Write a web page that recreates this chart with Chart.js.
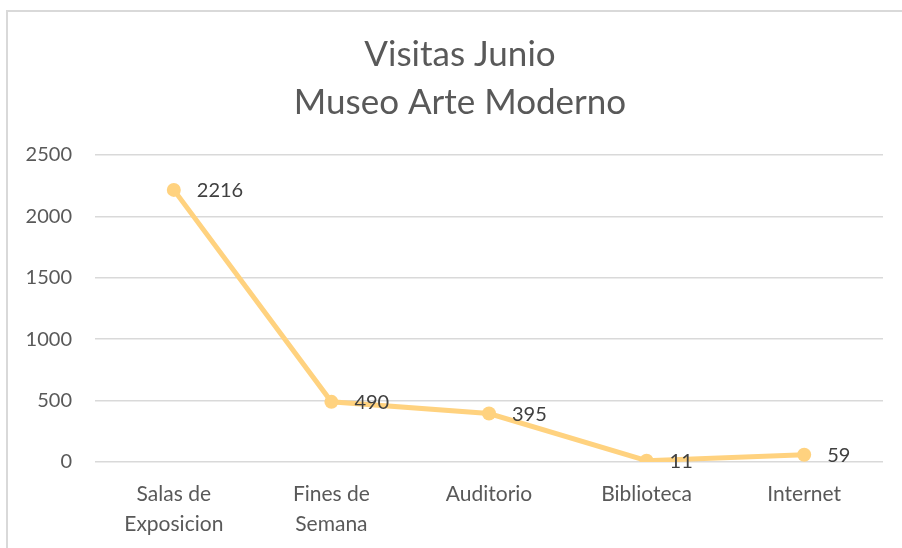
<!DOCTYPE html>
<html><head><meta charset="utf-8">
<script src="https://cdn.jsdelivr.net/npm/chart.js@4"></script>
<style>
html,body{margin:0;padding:0;background:#fff;}
#wrap{position:relative;width:902px;height:548px;overflow:hidden;}
#frame{position:absolute;left:6px;top:10px;width:1000px;height:1000px;border-left:2px solid #d9d9d9;border-top:2px solid #d9d9d9;}
canvas{position:absolute;left:0;top:0;}
</style></head>
<body><div id="wrap"><div id="frame"></div><canvas id="c" width="902" height="548"></canvas></div>
<script>
const titleLines = ["Visitas Junio", "Museo Arte Moderno"];
const categories = [["Salas de","Exposicion"], ["Fines de","Semana"], "Auditorio", "Biblioteca", "Internet"];
const visitas = [2216, 490, 395, 11, 59];
const yMin = 0, yMax = 2500, yStep = 500;

const FONT = "Lato, 'Open Sans', sans-serif";

const labelPlugin = {
  id: 'pointLabels',
  afterDatasetsDraw(chart) {
    const ctx = chart.ctx;
    const meta = chart.getDatasetMeta(0);
    ctx.save();
    ctx.font = "20px " + FONT;
    ctx.fillStyle = "#404040";
    ctx.textAlign = "left";
    ctx.textBaseline = "middle";
    meta.data.forEach((pt, i) => {
      ctx.fillText(String(chart.data.datasets[0].data[i]), pt.x + 23, pt.y + 1);
    });
    ctx.restore();
  }
};

// Title drawn centred on the outer chart frame (not the canvas)
const titlePlugin = {
  id: 'frameTitle',
  afterDraw(chart) {
    const ctx = chart.ctx;
    ctx.save();
    ctx.font = "35px " + FONT;
    ctx.fillStyle = "#595959";
    ctx.textAlign = "center";
    ctx.textBaseline = "alphabetic";
    titleLines.forEach((t, i) => ctx.fillText(t, 460, 66 + i * 48));
    ctx.restore();
  }
};

new Chart(document.getElementById('c'), {
  type: 'line',
  data: {
    labels: categories,
    datasets: [{
      data: visitas,
      borderColor: '#FFD27F',
      backgroundColor: '#FFD27F',
      borderWidth: 5,
      pointRadius: 7,
      pointHoverRadius: 7,
      pointBorderWidth: 0,
      tension: 0
    }]
  },
  options: {
    responsive: false,
    animation: false,
    layout: { padding: { left: 0, right: 19, top: 155, bottom: 0 } },
    plugins: {
      legend: { display: false },
      tooltip: { enabled: false },
      title: { display: false }
    },
    scales: {
      x: {
        offset: true,
        grid: { display: false, drawTicks: false },
        border: { display: false },
        ticks: { color: '#595959', font: { family: FONT, size: 21, lineHeight: 1.4 }, padding: 18, maxRotation: 0, autoSkip: false },
        afterFit(s) { s.height = 86; }
      },
      y: {
        min: yMin, max: yMax,
        grid: { color: '#d9d9d9', lineWidth: 1.5, drawTicks: false },
        border: { display: false },
        ticks: { stepSize: yStep, color: '#595959', font: { family: FONT, size: 20 }, padding: 23,
                 callback: v => String(v) },
        afterFit(s) { s.width = 95; }
      }
    }
  },
  plugins: [labelPlugin, titlePlugin]
});
</script></body></html>
